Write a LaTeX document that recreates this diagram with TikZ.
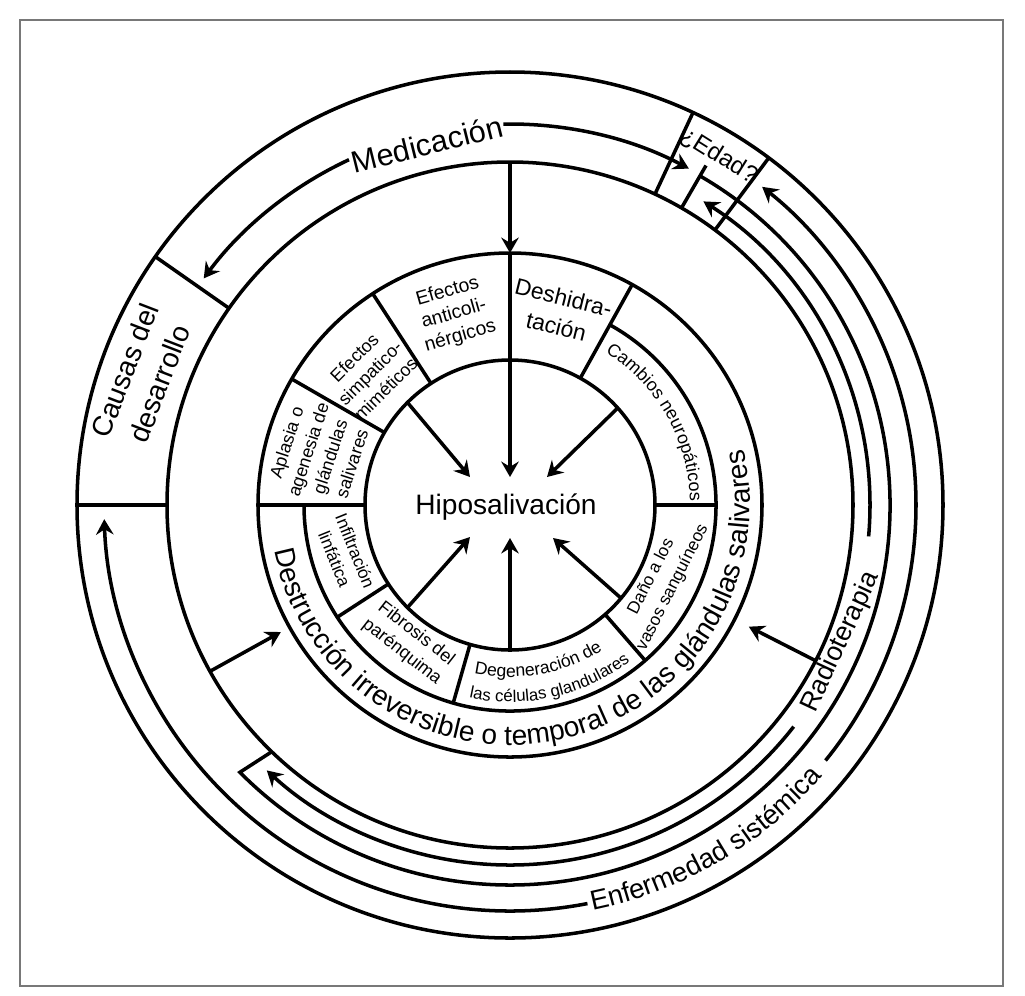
\documentclass[tikz,border=0pt]{standalone}
\usepackage{fontspec}
\setmainfont{Liberation Sans}
\usetikzlibrary{arrows.meta,decorations.text}

\definecolor{framegray}{gray}{0.47}

\tikzset{
  ring/.style={line width=1pt},
  flow/.style={line width=1pt, -{Stealth[length=4.4pt,width=5pt,inset=1.5pt]}},
  seglabel/.style={align=center, inner sep=0pt, font=\fontsize{5.3}{6.5}\selectfont},
  outlabel/.style={align=center, inner sep=0pt, font=\fontsize{8}{10.5}\selectfont},
}

\begin{document}
\begin{tikzpicture}
  \useasboundingbox (-5.10,-4.90) rectangle (5.15,5.05);
  \draw[framegray, line width=0.7pt] (-4.90,-4.81) rectangle (4.93,4.85);

  \def\rin{1.45}
  \def\rmid{2.06}
  \def\rout{2.52}
  \def\rband{3.43}
  \def\rrim{4.33}

  % rings and sectors
  \foreach \rad in {\rin,\rout,\rband,\rrim}
    \draw[ring] (0,0) circle[radius=\rad];
  \draw[ring] (61:\rmid) arc[start angle=61, end angle=-180, radius=\rmid];
  \foreach \a in {180,150,123,61}
    \draw[ring] (\a:\rin) -- (\a:\rout);
  \foreach \a in {0,-49,-106,-147}
    \draw[ring] (\a:\rin) -- (\a:\rmid);
  \foreach \a in {145,180,65,53.3}
    \draw[ring] (\a:\rband) -- (\a:\rrim);
  \draw[ring] (60:\rband) -- (60:3.92);

  % centre
  \node[font=\fontsize{8}{9.6}\selectfont] (hipo) at (-0.04,-0.02) {Hiposalivación};
  \coordinate (tipN) at (0,0.28);
  \coordinate (tipNW) at (-0.40,0.28);
  \coordinate (tipNE) at (0.37,0.28);
  \coordinate (tipSW) at (-0.40,-0.32);
  \coordinate (tipS) at (0,-0.33);
  \coordinate (tipSE) at (0.43,-0.33);
  \draw[flow] (90:\rband) -- (90:\rout);
  \draw[flow] (90:\rout) -- (tipN);
  \draw[flow] (135:\rin) -- (tipNW);
  \draw[flow] (42:\rin) -- (tipNE);
  \draw[flow] (-135:\rin) -- (tipSW);
  \draw[flow] (-90:\rin) -- (tipS);
  \draw[flow] (-40:\rin) -- (tipSE);

  % segment labels
  \node[seglabel, font=\fontsize{5.5}{6.6}\selectfont, rotate=16] (anticol) at (-0.56,1.91) {Efectos\\anticoli-\\nérgicos};
  \node[seglabel, font=\fontsize{6.5}{8.5}\selectfont, rotate=-14] (deshid) at (0.50,1.93) {Deshidra-\\tación};
  \node[seglabel, font=\fontsize{5.1}{6.3}\selectfont, rotate=45] (simpat) at (-1.40,1.32) {Efectos\\simpatico-\\miméticos};
  \node[seglabel, font=\fontsize{5.1}{6.5}\selectfont, rotate=72] (aplasia) at (-1.91,0.52) {Aplasia o\\agenesia de\\glándulas\\salivares};
  \node[seglabel, font=\fontsize{4.9}{6.3}\selectfont, rotate=-68] (infiltr) at (-1.65,-0.50) {Infiltración\\linfática};
  \node[seglabel, font=\fontsize{5.1}{6.6}\selectfont, rotate=-38] (fibrosis) at (-1.01,-1.38) {Fibrosis del\\parénquima};
  \node[seglabel, font=\fontsize{4.9}{6.8}\selectfont, rotate=63] (vasos) at (1.52,-0.77) {Daño a los\\vasos sanguíneos};
  \path[decorate, decoration={text along path,
      text={|\fontsize{5.1}{6}\selectfont|Cambios neuropáticos}}]
    (58:1.80) arc[start angle=58, end angle=-10, radius=1.80];
  \path[decorate, decoration={text along path,
      text={|\fontsize{5}{6}\selectfont|Degeneración de}}]
    (-102:1.72) arc[start angle=-102, end angle=-40, radius=1.72];
  \path[decorate, decoration={text along path,
      text={|\fontsize{4.8}{6}\selectfont|las células glandulares}}]
    (-102:1.97) arc[start angle=-102, end angle=-40, radius=1.97];
  \path[decorate, decoration={text along path,
      text={|\fontsize{8}{9}\selectfont|Destrucción irreversible o temporal de las glándulas salivares}}]
    (191:2.40) arc[start angle=191, end angle=380, radius=2.40];

  % outer band
  \node[outlabel, font=\fontsize{8.7}{10}\selectfont, rotate=14] (medic) at (-0.83,3.61) {Medicación};
  \node[outlabel, rotate=69] (causas) at (-3.68,1.28) {Causas del\\desarrollo};
  \node[outlabel, font=\fontsize{6.9}{8}\selectfont, rotate=-32] (edad) at (2.09,3.49) {¿Edad?};
  \node[outlabel, font=\fontsize{7.6}{9}\selectfont, rotate=65] (radio) at (3.31,-1.37) {Radioterapia};
  \path[decorate, decoration={text along path,
      text={|\fontsize{7.8}{9}\selectfont|Enfermedad sistémica}}]
    (-78.5:4.14) arc[start angle=-78.5, end angle=-30, radius=4.14];

  \draw[flow] (91:3.81) arc[start angle=91, end angle=62, radius=3.81];
  \draw[flow] (115:3.81) arc[start angle=115, end angle=143.5, radius=3.81];
  \draw[flow] (-5:3.60) arc[start angle=-5, end angle=57.5, radius=3.60];
  \draw[flow] (-38:3.60) arc[start angle=-38, end angle=-132.5, radius=3.60];
  \draw[ring] (60:3.80) arc[start angle=60, end angle=-135.3, radius=3.80] -- (-134:\rband);
  \draw[flow] (-39:4.06) arc[start angle=-39, end angle=51.6, radius=4.06];
  \draw[flow] (-79:4.06) arc[start angle=-79, end angle=-178, radius=4.06];
  \draw[flow] (-27:\rband) -- (-27:2.68);
  \draw[flow] (-151:\rband) -- (-151:2.62);
\end{tikzpicture}
\end{document}
